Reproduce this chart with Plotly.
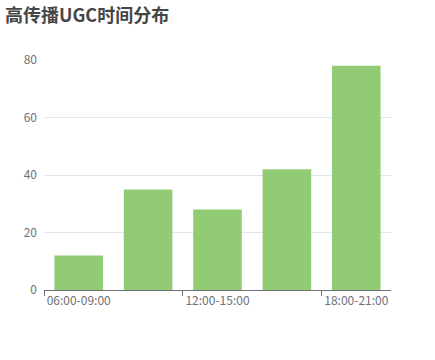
import plotly.graph_objects as go

categories = ["06:00-09:00", "09:00-12:00", "12:00-15:00", "15:00-18:00", "18:00-21:00"]
values = [12, 35, 28, 42, 78]
y_ticks = [0, 20, 40, 60, 80]
title_text = "高传播UGC时间分布"

W, H = 435, 360
fig = go.Figure()
fig.add_trace(go.Bar(
    x=categories, y=values,
    marker=dict(color="#91cc75", line=dict(width=0)),
    width=0.7,
    hoverinfo="x+y",
))

font_family = "Noto Sans CJK SC, Noto Sans, sans-serif"
fig.update_layout(
    width=W, height=H,
    margin=dict(l=44, r=44, t=60, b=70, pad=0),
    paper_bgcolor="white", plot_bgcolor="white",
    font=dict(family=font_family, size=12, color="#6E7079"),
    title=dict(
        text="<b>" + title_text + "</b>",
        font=dict(family=font_family, size=18, color="#464646"),
        xref="container", yref="container",
        x=5 / W, xanchor="left", y=1 - 9 / H, yanchor="top",
        pad=dict(t=0, b=0, l=0, r=0),
    ),
    showlegend=False,
    bargap=0.3,
)
fig.update_xaxes(
    type="category",
    tickson="boundaries",
    tickmode="linear", tick0=0, dtick=2,
    tickangle=0,
    ticks="outside", ticklen=5, tickcolor="#6E7079", tickwidth=1,
    showline=True, linecolor="#6E7079", linewidth=1,
    showgrid=False, zeroline=False,
    tickfont=dict(size=12, color="#6E7079"),
    range=[-0.5, 4.5],
)
fig.update_yaxes(
    range=[0, 80], tickvals=y_ticks,
    showgrid=True, gridcolor="#E0E6F1", gridwidth=1,
    zeroline=False, showline=False, ticks="",
    ticklabelstandoff=6,
    tickfont=dict(size=12, color="#6E7079"),
)
fig.write_html("out.html")
